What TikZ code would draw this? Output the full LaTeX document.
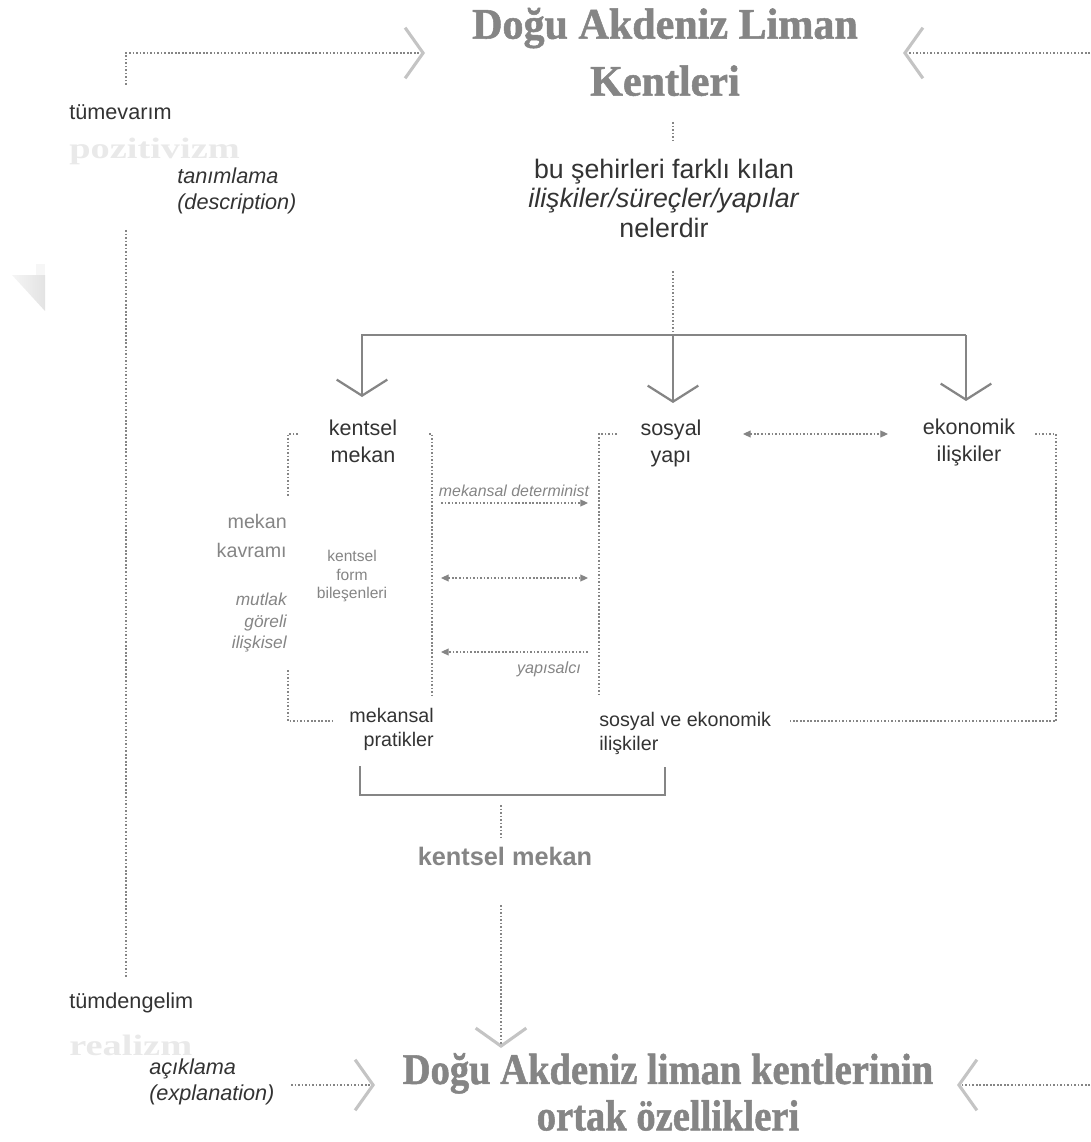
\documentclass[tikz,border=0pt]{standalone}
\usepackage{fontspec}
\setmainfont{Liberation Sans}
\newfontfamily\headfont[FakeStretch=0.965, FakeBold=1.2]{Liberation Serif}
\newfontfamily\footfont[FakeStretch=0.885, FakeBold=1.2]{Liberation Serif}
\newfontfamily\ghostfont[FakeStretch=1.3]{Liberation Serif}
\usetikzlibrary{arrows.meta}
\definecolor{ink}{HTML}{333333}
\definecolor{mid}{HTML}{858585}
\definecolor{pale}{HTML}{C4C4C4}
\definecolor{ghost}{HTML}{E9E9E9}
\tikzset{
    dotline/.style={draw=mid, line width=0.8pt, dash pattern=on 1.2pt off 1.3pt},
    fork/.style={draw=mid, line width=1.8pt},
    ptr/.style={dotline, -{Triangle[length=5.5pt,width=5pt]}},
    dptr/.style={dotline, {Triangle[length=5.5pt,width=5pt]}-{Triangle[length=5.5pt,width=5pt]}},
    chev/.style={-{Straight Barb[length=12.8pt,width=36pt,line width=2.2pt,color=pale]}},
    forkchev/.style={-{Straight Barb[length=11.4pt,width=36pt,line width=1.6pt]}},
    head/.style={text=mid, inner sep=0pt, align=center},
    txt/.style={text=ink, inner sep=0pt},
    note/.style={text=mid, inner sep=0pt},
    ghostword/.style={text=ghost, inner sep=0pt, anchor=west, font=\ghostfont\bfseries\fontsize{21}{24}\selectfont}
}

\begin{document}
\begin{tikzpicture}[x=0.025cm, y=-0.025cm]
    \useasboundingbox (0,0) rectangle (1090,1142);

    % titles
    \node[head, font=\headfont\bfseries\fontsize{31}{40.5}\selectfont] (topic) at (665,52) {Doğu Akdeniz Liman\\Kentleri};
    \node[head, font=\footfont\bfseries\fontsize{31}{33}\selectfont] (common) at (668,1092) {Doğu Akdeniz liman kentlerinin\\ortak özellikleri};

    % left column
    \node[txt, anchor=west, font=\fontsize{15.4}{18.5}\selectfont] (induct) at (69,112) {tümevarım};
    \node[ghostword] (posit) at (69,151) {pozitivizm};
    \node[txt, anchor=west, align=left, font=\itshape\fontsize{15.4}{18.5}\selectfont] (descr) at (177,191) {tanımlama\\(description)};
    \node[txt, anchor=west, font=\fontsize{15.4}{18.5}\selectfont] (deduct) at (69,1003) {tümdengelim};
    \node[ghostword] (real) at (69,1045) {realizm};
    \node[txt, anchor=west, align=left, font=\itshape\fontsize{15.4}{18.5}\selectfont] (expl) at (149,1082) {açıklama\\(explanation)};

    % question
    \node[txt, align=center, font=\fontsize{19}{21}\selectfont] (ask) at (664,198) {bu şehirleri farklı kılan\\\textit{ilişkiler/süreçler/yapılar}\\nelerdir};

    % three fields
    \node[txt, align=center, font=\fontsize{15.3}{19.2}\selectfont] (urban) at (363,441) {kentsel\\mekan};
    \node[txt, align=center, font=\fontsize{15.3}{19.2}\selectfont] (social) at (671,443) {sosyal\\yapı};
    \node[txt, align=center, font=\fontsize{15.3}{19.2}\selectfont] (econ) at (969,442) {ekonomik\\ilişkiler};

    \node[note, anchor=east, align=right, font=\fontsize{14}{20}\selectfont] (concept) at (287,536) {mekan\\kavramı};
    \node[note, anchor=east, align=right, font=\itshape\fontsize{12.3}{15.3}\selectfont] (kinds) at (287,623) {mutlak\\göreli\\ilişkisel};
    \node[note, align=center, font=\fontsize{11.1}{13.5}\selectfont] (form) at (352,576) {kentsel\\form\\bileşenleri};
    \node[note, font=\itshape\fontsize{11.3}{13}\selectfont] (determ) at (514,491) {mekansal determinist};
    \node[note, font=\itshape\fontsize{11.5}{13}\selectfont] (struct) at (549,669) {yapısalcı};

    \node[txt, anchor=east, align=right, font=\fontsize{14}{17}\selectfont] (practice) at (434,729) {mekansal\\pratikler};
    \node[txt, anchor=west, align=left, font=\fontsize{14}{17}\selectfont] (socio) at (599,733) {sosyal ve ekonomik\\ilişkiler};
    \node[note, font=\bfseries\fontsize{18}{20}\selectfont] (space) at (505,856) {kentsel mekan};

    % connector ends
    \coordinate (indTop) at (126,85);
    \coordinate (inApex) at (425,53);
    \coordinate (rEdge) at (1090,53);
    \coordinate (outApex) at (903,53);
    \coordinate (indLow) at (126,230);
    \coordinate (dedHigh) at (126,977);
    \coordinate (askTop) at (673,122);
    \coordinate (askTopEnd) at (673,143);
    \coordinate (askLow) at (673,271);
    \coordinate (forkL) at (362,335);
    \coordinate (forkM) at (673,335);
    \coordinate (forkR) at (966,335);
    \coordinate (urbanTip) at (362,397);
    \coordinate (socialTip) at (673,403);
    \coordinate (econTip) at (966,401);
    \coordinate (linkS) at (743,434);
    \coordinate (linkE) at (888,434);
    \coordinate (detA) at (441,503);
    \coordinate (detB) at (588,503);
    \coordinate (bothA) at (441,578);
    \coordinate (bothB) at (588,578);
    \coordinate (strA) at (588,652);
    \coordinate (strB) at (441,652);
    \coordinate (sumTop) at (501,805);
    \coordinate (sumLow) at (501,837);
    \coordinate (spaceLow) at (501,905);
    \coordinate (downApex) at (501,1048);
    \coordinate (explEnd) at (291,1085);
    \coordinate (botApexL) at (375,1085);
    \coordinate (botEdge) at (1090,1085);
    \coordinate (botApexR) at (957,1085);

    % folded corner
    \fill[gray!7] (36,264) rectangle (45,275);
    \shade[left color=gray!8, right color=gray!22] (12,275) -- (45,275) -- (45,311) -- cycle;

    % outer loop
    \draw[dotline, chev] (indTop) |- (inApex);
    \draw[dotline, chev] (rEdge) -- (outApex);
    \draw[dotline] (indLow) -- (dedHigh);
    \draw[dotline] (askTop) -- (askTopEnd);
    \draw[dotline] (askLow) -- (forkM);
    \draw[dotline, chev] (explEnd) -- (botApexL);
    \draw[dotline, chev] (botEdge) -- (botApexR);
    \draw[dotline] (sumTop) -- (sumLow);
    \draw[dotline, chev] (spaceLow) -- (downApex);

    % fork
    \draw[fork, forkchev] (forkR) -| (urbanTip);
    \draw[fork, forkchev] (forkM) -- (socialTip);
    \draw[fork, forkchev] (forkR) -- (econTip);

    % brackets
    \draw[dotline] (298,434) -| (288,497);
    \draw[dotline] (288,670) |- (333,721);
    \draw[dotline] (429,434) -| (432,696);
    \draw[dotline] (617,434) -| (599,697);
    \draw[dotline] (1035,434) -| (1056,721) -- (790,721);
    \draw[fork] (360,766) |- (665,795) -- (665,767);

    % links between fields
    \draw[dptr] (linkS) -- (linkE);
    \draw[ptr] (detA) -- (detB);
    \draw[dptr] (bothA) -- (bothB);
    \draw[ptr] (strA) -- (strB);
\end{tikzpicture}
\end{document}
